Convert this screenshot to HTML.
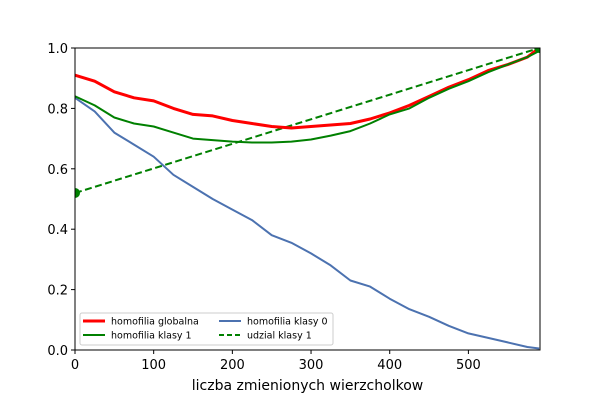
<!DOCTYPE html>
<html><head><meta charset="utf-8"><style>body{margin:0;background:#fff}svg{display:block;font-family:"DejaVu Sans","Liberation Sans",sans-serif}</style></head>
<body>
<svg id="c" width="600" height="400"><defs><clipPath id="clip"><rect x="75" y="48" width="465" height="302"/></clipPath></defs></svg>
<script>
const xs=[0,25,50,75,100,125,150,175,200,225,250,275,300,325,350,375,400,425,450,475,500,525,550,575,590];
const globalH=[0.91,0.89,0.855,0.835,0.825,0.80,0.78,0.775,0.76,0.75,0.74,0.735,0.74,0.745,0.75,0.765,0.785,0.81,0.84,0.87,0.895,0.925,0.945,0.97,1.0];
const class1H=[0.84,0.81,0.77,0.75,0.74,0.72,0.70,0.695,0.69,0.687,0.687,0.69,0.697,0.71,0.725,0.75,0.78,0.80,0.835,0.865,0.89,0.92,0.945,0.97,0.99];
const class0H=[0.835,0.79,0.72,0.68,0.64,0.58,0.54,0.50,0.465,0.43,0.38,0.355,0.32,0.28,0.23,0.21,0.17,0.135,0.11,0.08,0.055,0.04,0.025,0.01,0.005];
const shareX=[0,590];
const shareY=[0.52,1.0];
const xTicks=[0,100,200,300,400,500];
const yTicks=[0,0.2,0.4,0.6,0.8,1.0];
const L=75,R=540,T=48,B=350,XMAX=591;
const sx=v=>L+v/XMAX*(R-L), sy=v=>B-v*(B-T);
const svg=document.getElementById('c');const NS='http://www.w3.org/2000/svg';
function mk(t,a,p){const e=document.createElementNS(NS,t);for(const k in a)e.setAttribute(k,a[k]);(p||svg).appendChild(e);return e;}
const pg=mk('g',{'clip-path':'url(#clip)'});


function line(X,Y,col,w,dash,name){const d=X.map((x,i)=>(i?'L':'M')+sx(x).toFixed(1)+','+sy(Y[i]).toFixed(1)).join('');
const p=mk('path',{d:d,fill:'none',stroke:col,'stroke-width':w,'stroke-linejoin':'round'},pg);if(dash)p.setAttribute('stroke-dasharray',dash);

}
line(xs,class0H,'#4c72b0',2,null,'line-homofilia-klasy-0');
line(shareX,shareY,'green',2,'7,3.5','line-udzial-klasy-1');
line(xs,globalH,'red',3,null,'line-homofilia-globalna');
line(xs,class1H,'green',2,null,'line-homofilia-klasy-1');
shareX.forEach((x,i)=>{const c=mk('circle',{cx:sx(x),cy:sy(shareY[i]),r:5,fill:'green'},pg);

});
const fr=mk('rect',{x:L,y:T,width:R-L,height:B-T,fill:'none',stroke:'#000','stroke-width':1});


xTicks.forEach(v=>{mk('line',{x1:sx(v),x2:sx(v),y1:B,y2:B+4,stroke:'#000'});
const t=mk('text',{x:sx(v),y:B+19,'text-anchor':'middle','font-size':13});t.textContent=v;

});
yTicks.forEach(v=>{mk('line',{x1:L-4,x2:L,y1:sy(v),y2:sy(v),stroke:'#000'});
const t=mk('text',{x:L-7,y:sy(v)+5,'text-anchor':'end','font-size':13});t.textContent=v.toFixed(1);

});
const xt=mk('text',{x:(L+R)/2,y:390,'text-anchor':'middle','font-size':14});xt.textContent='liczba zmienionych wierzcholkow';


const lg=mk('g',{});


mk('rect',{x:80,y:313,width:253,height:32,rx:2,fill:'#fff','fill-opacity':0.8,stroke:'#ccc'},lg);
const items=[['homofilia globalna','red',3,null,83,321],['homofilia klasy 1','green',2,null,83,335],['homofilia klasy 0','#4c72b0',2,null,219,321],['udzial klasy 1','green',2,'5,3',219,335]];
items.forEach(it=>{const g=mk('g',{},lg);


const l=mk('line',{x1:it[4],x2:it[4]+22,y1:it[5],y2:it[5],stroke:it[1],'stroke-width':it[2]},g);if(it[3])l.setAttribute('stroke-dasharray',it[3]);
const t=mk('text',{x:it[4]+28,y:it[5]+3.5,'font-size':9.5},g);t.textContent=it[0];});
</script>
</body></html>
